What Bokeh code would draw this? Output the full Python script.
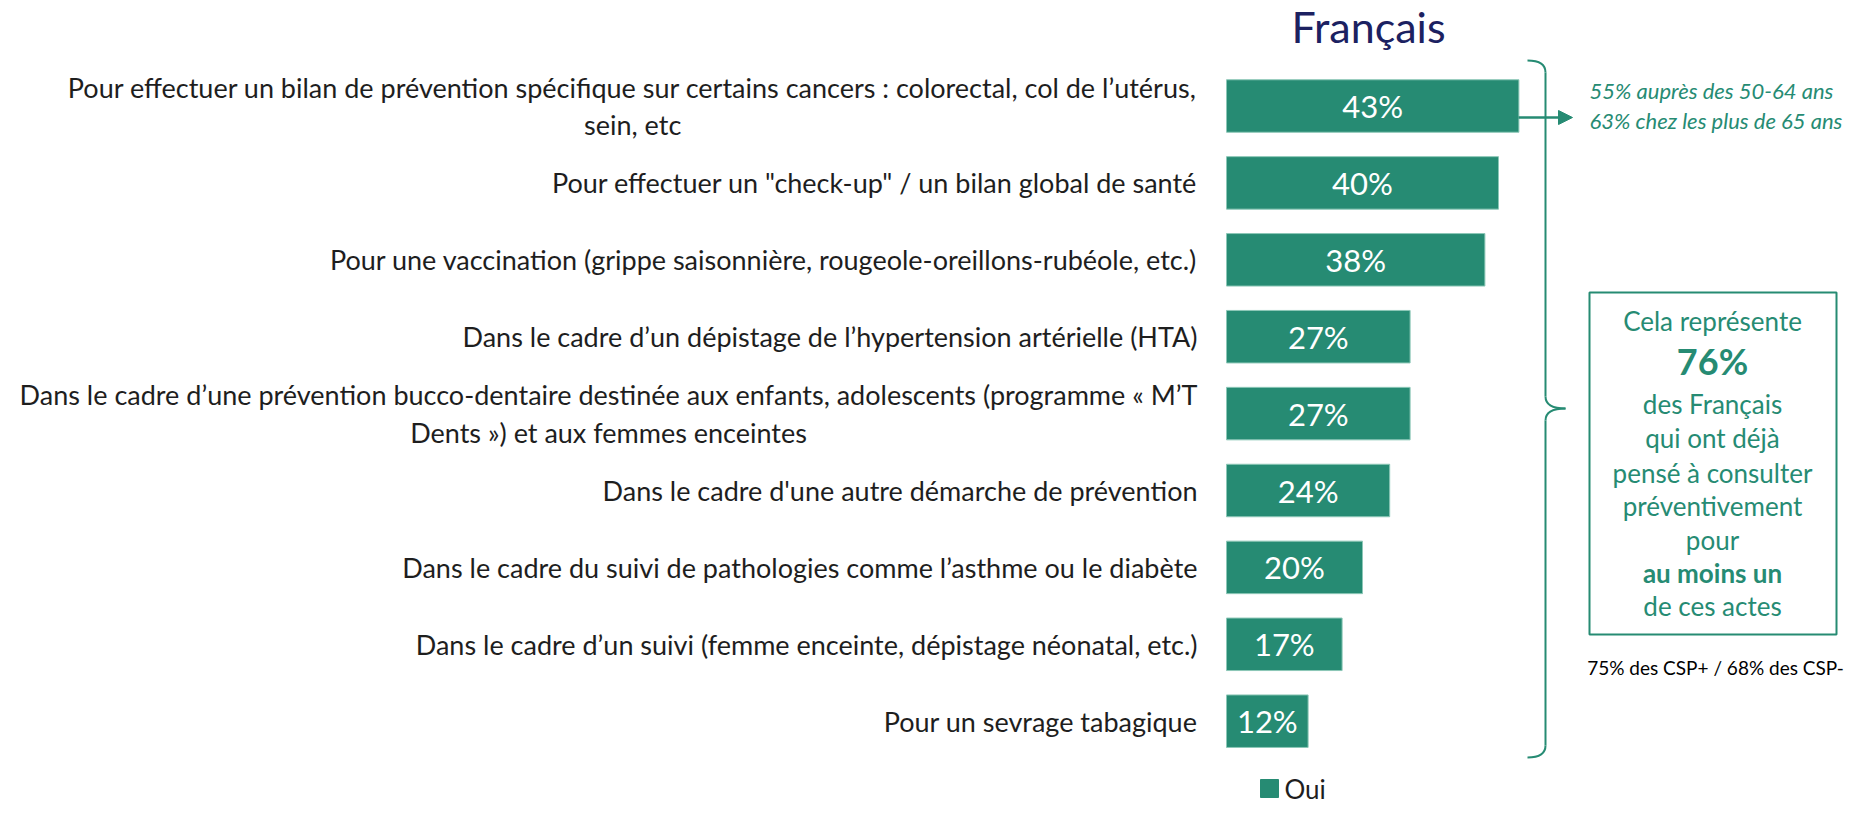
from bokeh.plotting import figure
from bokeh.models import Range1d, Arrow, NormalHead
from bokeh.core.properties import value
from bokeh.embed import file_html
from bokeh.resources import INLINE

# ---------------- data ----------------
categories = [
    "Pour effectuer un bilan de prévention spécifique sur certains cancers : colorectal, col de l’utérus,\nsein, etc",
    "Pour effectuer un \"check-up\" / un bilan global de santé",
    "Pour une vaccination (grippe saisonnière, rougeole-oreillons-rubéole, etc.)",
    "Dans le cadre d’un dépistage de l’hypertension artérielle (HTA)",
    "Dans le cadre d’une prévention bucco-dentaire destinée aux enfants, adolescents (programme « M’T\nDents ») et aux femmes enceintes",
    "Dans le cadre d'une autre démarche de prévention",
    "Dans le cadre du suivi de pathologies comme l’asthme ou le diabète",
    "Dans le cadre d’un suivi (femme enceinte, dépistage néonatal, etc.)",
    "Pour un sevrage tabagique",
]
oui = [43, 40, 38, 27, 27, 24, 20, 17, 12]
value_labels = [f"{v}%" for v in oui]
title_text = "Français"
legend_label = "Oui"
side_note = ["55% auprès des 50-64 ans", "63% chez les plus de 65 ans"]
box_lines = ["Cela représente", "76%", "des Français", "qui ont déjà",
             "pensé à consulter", "préventivement", "pour", "au moins un", "de ces actes"]
box_bold = [False, True, False, False, False, False, False, True, False]
csp_note = "75% des CSP+ / 68% des CSP-"

# ---------------- layout helpers (page pixels -> data) ----------------
W, H = 1856, 806
X0, PX_PER_PCT = 1226, 6.8        # page x of 0 %, pixels per percent
Y0, PX_PER_ROW = 105.5, 76.9      # page y of first bar centre, row pitch

def fx(px):
    return (px - X0) / PX_PER_PCT

def fy(py):
    return (py - Y0) / PX_PER_ROW

TEAL = "#268B73"
NAVY = "#1C2161"
TXT = "#1E1E1E"
FONT = "Lato"

p = figure(width=W, height=H, output_backend="svg", toolbar_location=None,
           x_range=Range1d(fx(0), fx(W)), y_range=Range1d(fy(H), fy(0)),
           min_border=0, outline_line_color=None, background_fill_color="white",
           border_fill_color="white")
p.xaxis.visible = False
p.yaxis.visible = False
p.xgrid.visible = False
p.ygrid.visible = False

idx = list(range(len(oui)))

# bars
p.hbar(y=idx, left=0, right=oui, height=52.5 / PX_PER_ROW,
       fill_color=TEAL, line_color="#8CC7B7", line_width=1)

# value labels inside bars
p.text(x=[v / 2 for v in oui], y=idx, text=value_labels,
       text_font=value(FONT), text_font_size="31px", text_color="white",
       text_align="center", text_baseline="middle")

# category labels (block right-aligned, lines centred)
p.text(x=[fx(1197)] * len(idx), y=idx, text=categories,
       text_font=value(FONT), text_font_size="27px", text_color=TXT,
       anchor="center_right", text_align="center", text_baseline="middle",
       text_line_height=1.15)

# title
p.text(x=[fx(1368)], y=[fy(26)], text=[title_text], text_font=value(FONT),
       text_font_size="43px", text_color=NAVY, text_align="center",
       text_baseline="middle")

# brace
bx, top, bot, mid, tip = 1545, 60, 757, 408, 1565
p.quadratic(x0=[fx(1527), fx(bx), fx(tip), fx(bx)],
            y0=[fy(top), fy(mid - 12), fy(mid), fy(bot - 12)],
            x1=[fx(bx), fx(tip), fx(bx), fx(1527)],
            y1=[fy(top + 12), fy(mid), fy(mid + 12), fy(bot)],
            cx=[fx(bx), fx(bx), fx(bx), fx(bx)],
            cy=[fy(top), fy(mid), fy(mid), fy(bot)],
            line_color=TEAL, line_width=2)
p.segment(x0=[fx(bx), fx(bx)], y0=[fy(top + 12), fy(mid + 12)],
          x1=[fx(bx), fx(bx)], y1=[fy(mid - 12), fy(bot - 12)],
          line_color=TEAL, line_width=2)

# arrow from the first bar
p.add_layout(Arrow(end=NormalHead(size=14, fill_color=TEAL, line_color=TEAL),
                   x_start=fx(1518), y_start=fy(117), x_end=fx(1572), y_end=fy(117),
                   line_color=TEAL, line_width=2.5))

# side note (italic)
p.text(x=[fx(1589)] * 2, y=[fy(90), fy(120)], text=side_note,
       text_font=value(FONT), text_font_size="22px", text_font_style="italic",
       text_color=TEAL, text_align="left", text_baseline="middle")

# box
p.quad(left=fx(1589), right=fx(1836), top=fy(292), bottom=fy(634),
       fill_color=None, line_color=TEAL, line_width=2)
box_y = [320, 360, 403, 437, 472, 505, 539, 572, 605]
for t, yy, b in zip(box_lines, box_y, box_bold):
    p.text(x=[fx(1712)], y=[fy(yy)], text=[t], text_font=value(FONT),
           text_font_size="36px" if t == "76%" else "26px",
           text_font_style="bold" if b else "normal",
           text_color=TEAL, text_align="center", text_baseline="middle")

p.text(x=[fx(1715)], y=[fy(667)], text=[csp_note], text_font=value(FONT),
       text_font_size="19px", text_color="black", text_align="center",
       text_baseline="middle")

# legend
p.scatter(x=[fx(1269)], y=[fy(788)], marker="square", size=18,
          fill_color=TEAL, line_color=TEAL)
p.text(x=[fx(1284)], y=[fy(788)], text=[legend_label], text_font=value(FONT),
       text_font_size="26px", text_color=TXT, text_align="left",
       text_baseline="middle")

open("out.html", "w").write(file_html(p, INLINE))
